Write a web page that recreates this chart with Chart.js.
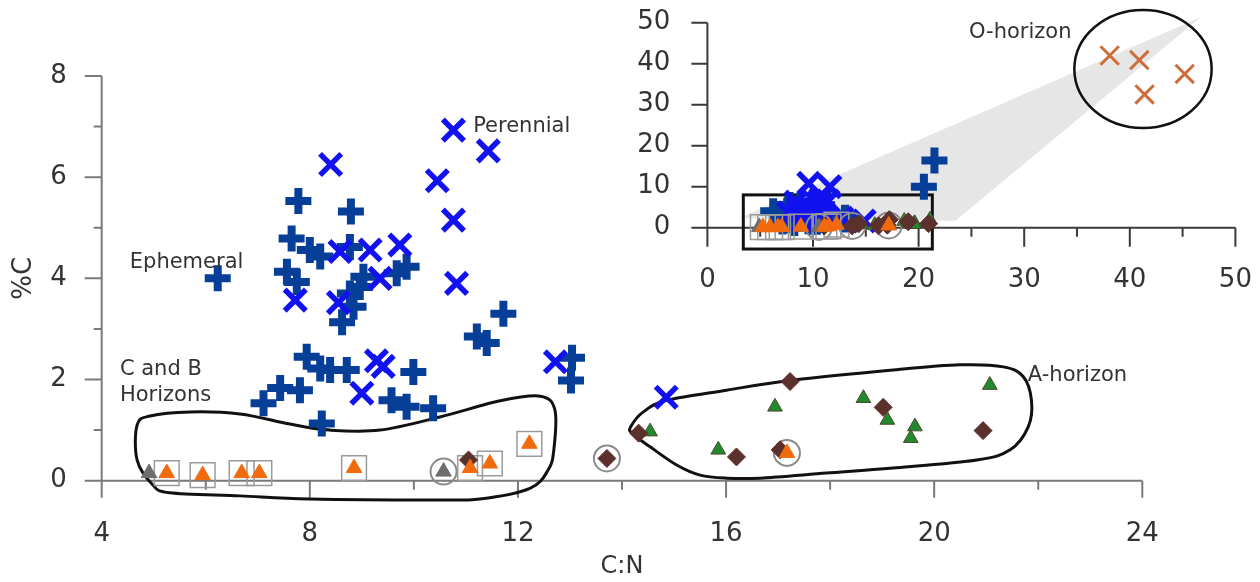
<!doctype html>
<html lang="en">
<head>
<meta charset="utf-8">
<title>%C vs C:N</title>
<script src="https://cdn.jsdelivr.net/npm/chart.js@4.4.1/dist/chart.umd.min.js"></script>
<style>
  html, body { margin: 0; padding: 0; background: #fff; }
  #wrap { position: relative; width: 1260px; height: 582px; }
  #main { position: absolute; left: 0; top: 0; }
  #inset { position: absolute; left: 620px; top: 0; }
</style>
</head>
<body>
<div id="wrap">
  <canvas id="main" width="1260" height="582"></canvas>
  <canvas id="inset" width="640" height="300"></canvas>
</div>
<script>
// values (x = C:N, y = %C)
var ephemeralCN = [6.23, 7.78, 8.79, 7.65, 8.00, 8.20, 8.77, 9.86, 9.67, 9.03, 8.96, 7.56, 7.75, 8.77, 8.84, 8.62,
                   11.72, 11.21, 11.40, 13.04, 13.02, 9.99, 7.94, 8.20, 8.39, 8.71, 7.43, 7.81, 7.11, 9.57, 9.86,
                   10.37, 8.23, 20.5, 21.5];
var ephemeralC = [4.00, 5.53, 5.32, 4.79, 4.56, 4.43, 4.62, 4.23, 4.10, 4.03, 3.83, 4.13, 3.93, 3.70, 3.44, 3.13,
                  3.30, 2.85, 2.72, 2.43, 1.98, 2.15, 2.45, 2.22, 2.19, 2.19, 1.83, 1.79, 1.53, 1.59, 1.46,
                  1.43, 1.13, 10.0, 16.4];
var perennialCN = [10.76, 11.43, 8.40, 10.45, 10.76, 8.58, 9.16, 9.73, 9.35, 10.82, 7.72, 8.55, 12.72, 9.28, 9.41,
                   9.00, 14.85, 9.6, 11.6];
var perennialC = [6.93, 6.52, 6.25, 5.93, 5.15, 4.53, 4.56, 4.66, 4.00, 3.90, 3.57, 3.52, 2.35, 2.37, 2.26,
                  1.73, 1.65, 10.8, 10.0];
var orangeCN = [5.25, 5.94, 6.69, 7.03, 8.85, 11.08, 11.46, 12.22, 17.17];
var orangeC = [0.15, 0.11, 0.15, 0.15, 0.25, 0.25, 0.34, 0.73, 0.55];
var boxedCN = [5.25, 5.94, 6.69, 7.03, 8.85, 11.08, 11.46, 12.22];
var boxedC = [0.15, 0.11, 0.15, 0.15, 0.25, 0.25, 0.34, 0.73];
var grayCN = [4.91, 10.57];
var grayC = [0.15, 0.18];
var ringedCN = [10.57, 13.71, 17.17];
var ringedC = [0.18, 0.44, 0.55];
var brownCN = [11.05, 13.71, 14.32, 16.20, 17.04, 17.23, 19.02, 20.94];
var brownC = [0.41, 0.44, 0.94, 0.47, 0.61, 1.96, 1.45, 0.99];
var greenCN = [14.54, 15.85, 16.94, 18.64, 19.10, 19.63, 19.55, 21.07];
var greenC = [0.97, 0.61, 1.46, 1.63, 1.20, 1.07, 0.84, 1.89];
var oHorizonCN = [38.1, 40.9, 45.2, 41.4];
var oHorizonC = [42.0, 40.9, 37.5, 32.5];

// hand-drawn group outlines (data coords)
var cbOutlineCN = [4.68, 4.93, 5.70, 6.66, 7.62, 8.39, 9.35, 10.50, 11.66, 12.43, 12.71, 12.69, 12.58, 12.23,
                   11.27, 10.31, 8.00, 6.66, 5.31, 4.97, 4.68];
var cbOutlineC = [1.10, 1.28, 1.36, 1.32, 1.12, 1.00, 1.00, 1.26, 1.58, 1.67, 1.40, 0.61, 0.21, -0.15,
                  -0.36, -0.38, -0.36, -0.30, -0.24, -0.07, 0.41];
var aOutlineCN = [14.17, 14.41, 14.86, 16.01, 17.29, 19.21, 20.50, 21.33, 21.71, 21.87, 21.81, 21.46, 20.82,
                  19.21, 17.93, 16.65, 16.01, 15.50, 15.05, 14.54, 14.19];
var aOutlineC = [1.07, 1.36, 1.59, 1.79, 1.99, 2.19, 2.29, 2.25, 2.06, 1.59, 1.07, 0.61, 0.41,
                 0.25, 0.15, 0.05, 0.05, 0.11, 0.31, 0.67, 0.94];
var wedgeCN = [2.99, 23.5, 46.7];
var wedgeC = [2.29, 1.71, 51.3];

// axis ticks
var mainXTicks = [4, 8, 12, 16, 20, 24];
var mainXMinor = [6, 10, 14, 18, 22];
var mainYTicks = [0, 2, 4, 6, 8];
var mainYMinor = [1, 3, 5, 7];
var insetTicks = [0, 10, 20, 30, 40, 50];
var insetXMinor = [5, 15, 25, 35, 45];

var FONT = '"DejaVu Sans", Verdana, sans-serif';
var TEXT = '#333333';

function pts(xs, ys) {
  return xs.map(function (x, i) { return {x: x, y: ys[i]}; });
}

function markerSets() {
  return [
    {data: pts(orangeCN, orangeC), pointStyle: 'triangle', pointRadius: 9, pointBackgroundColor: '#f26a0e',
     pointBorderColor: '#f26a0e', pointBorderWidth: 1, order: 1},
    {data: pts(grayCN, grayC), pointStyle: 'triangle', pointRadius: 9, pointBackgroundColor: '#6e6e6e',
     pointBorderColor: '#6e6e6e', pointBorderWidth: 1, order: 2},
    {data: pts(brownCN, brownC), pointStyle: 'rectRot', pointRadius: 9, pointBackgroundColor: '#5c302c',
     pointBorderColor: '#5c302c', pointBorderWidth: 1, order: 3},
    {data: pts(greenCN, greenC), pointStyle: 'triangle', pointRadius: 8.5, pointBackgroundColor: '#23892e',
     pointBorderColor: '#4b4a2c', pointBorderWidth: 1, order: 4},
    {data: pts(boxedCN, boxedC), pointStyle: 'rect', pointRadius: 17.5, pointBackgroundColor: 'rgba(0,0,0,0)',
     pointBorderColor: '#9a9a9a', pointBorderWidth: 1.5, order: 5},
    {data: pts(ringedCN, ringedC), pointStyle: 'circle', pointRadius: 13, pointBackgroundColor: 'rgba(0,0,0,0)',
     pointBorderColor: '#8a8a8a', pointBorderWidth: 2, order: 5},
    {data: pts(perennialCN, perennialC), pointStyle: 'crossRot', pointRadius: 15, pointBorderColor: '#1212f0',
     pointBorderWidth: 5.5, order: 6},
    {data: pts(ephemeralCN, ephemeralC), pointStyle: 'cross', pointRadius: 13, pointBorderColor: '#073f98',
     pointBorderWidth: 8, order: 7}
  ];
}

function toPx(chart, x, y) {
  return [chart.scales.x.getPixelForValue(x), chart.scales.y.getPixelForValue(y)];
}

function closedCurve(ctx, chart, xs, ys) {
  var p = xs.map(function (x, i) { return toPx(chart, x, ys[i]); });
  var n = p.length;
  ctx.beginPath();
  ctx.moveTo(p[0][0], p[0][1]);
  for (var i = 0; i < n; i++) {
    var p0 = p[(i - 1 + n) % n], p1 = p[i], p2 = p[(i + 1) % n], p3 = p[(i + 2) % n];
    ctx.bezierCurveTo(p1[0] + (p2[0] - p0[0]) / 6, p1[1] + (p2[1] - p0[1]) / 6,
                      p2[0] - (p3[0] - p1[0]) / 6, p2[1] - (p3[1] - p1[1]) / 6,
                      p2[0], p2[1]);
  }
  ctx.closePath();
  ctx.stroke();
}

function drawAxes(chart, a) {
  var ctx = chart.ctx, xs = chart.scales.x, ys = chart.scales.y;
  var x0 = xs.getPixelForValue(a.yAt), y0 = ys.getPixelForValue(a.xAt);
  ctx.save();
  ctx.strokeStyle = a.color;
  ctx.lineWidth = 2;
  ctx.beginPath();
  ctx.moveTo(x0 - a.xLeft, y0);
  ctx.lineTo(xs.getPixelForValue(a.xMax), y0);
  ctx.moveTo(x0, ys.getPixelForValue(a.yMax));
  ctx.lineTo(x0, y0 + a.yBelow);
  a.xMajor.forEach(function (v) {
    var p = xs.getPixelForValue(v);
    ctx.moveTo(p, y0); ctx.lineTo(p, y0 + a.xMajorLen);
  });
  a.xMinor.forEach(function (v) {
    var p = xs.getPixelForValue(v);
    ctx.moveTo(p, y0); ctx.lineTo(p, y0 + a.xMinorLen);
  });
  a.yMajor.forEach(function (v) {
    var p = ys.getPixelForValue(v);
    ctx.moveTo(x0, p); ctx.lineTo(x0 - a.yMajorLen, p);
  });
  a.yMinor.forEach(function (v) {
    var p = ys.getPixelForValue(v);
    ctx.moveTo(x0, p); ctx.lineTo(x0 - a.yMinorLen, p);
  });
  ctx.stroke();
  ctx.restore();
}

function label(chart, text, x, y) {
  var p = toPx(chart, x, y), ctx = chart.ctx;
  ctx.save();
  ctx.font = '21px ' + FONT;
  ctx.fillStyle = TEXT;
  ctx.textAlign = 'left';
  ctx.textBaseline = 'middle';
  ctx.fillText(text, p[0], p[1]);
  ctx.restore();
}

// fixed axis sizes so the plot areas land where the figure has them
function scaleOpts(min, max, step, w, h, pad, size, title) {
  var o = {
    type: 'linear', min: min, max: max,
    grid: {display: false, drawTicks: false},
    border: {display: false},
    ticks: {stepSize: step, padding: pad, color: TEXT, font: {family: FONT, size: size}},
    afterFit: function (s) {
      if (w) s.width = w;
      if (h) s.height = h;
      s.paddingLeft = s.paddingRight = s.paddingTop = s.paddingBottom = 0;
    }
  };
  if (title) o.title = title;
  return o;
}

var mainDecor = {
  id: 'mainDecor',
  beforeDatasetsDraw: function (chart) {
    var ctx = chart.ctx;
    drawAxes(chart, {yAt: 4, xAt: 0, xMax: 24, yMax: 8, xLeft: 2, yBelow: 17, color: '#7a7a7a',
      xMajor: mainXTicks, xMinor: mainXMinor, yMajor: mainYTicks, yMinor: mainYMinor,
      xMajorLen: 17, xMinorLen: 9, yMajorLen: 17, yMinorLen: 8});
    ctx.save();
    ctx.strokeStyle = '#111';
    ctx.lineWidth = 3;
    closedCurve(ctx, chart, cbOutlineCN, cbOutlineC);
    closedCurve(ctx, chart, aOutlineCN, aOutlineC);
    ctx.restore();
  },
  afterDatasetsDraw: function (chart) {
    label(chart, 'Ephemeral', 4.54, 4.32);
    label(chart, 'Perennial', 11.14, 7.01);
    label(chart, 'C and B', 4.35, 2.19);
    label(chart, 'Horizons', 4.35, 1.69);
    label(chart, 'A-horizon', 21.80, 2.07);
  }
};

var insetDecor = {
  id: 'insetDecor',
  beforeDatasetsDraw: function (chart) {
    var ctx = chart.ctx;
    ctx.save();
    ctx.fillStyle = '#e6e6e6';
    ctx.beginPath();
    wedgeCN.forEach(function (x, i) {
      var p = toPx(chart, x, wedgeC[i]);
      if (i === 0) ctx.moveTo(p[0], p[1]); else ctx.lineTo(p[0], p[1]);
    });
    ctx.closePath();
    ctx.fill();
    ctx.restore();
    drawAxes(chart, {yAt: 0, xAt: 0, xMax: 50, yMax: 50, xLeft: 16, yBelow: 19, color: '#3a3a3a',
      xMajor: insetTicks, xMinor: insetXMinor, yMajor: insetTicks, yMinor: [],
      xMajorLen: 19, xMinorLen: 9, yMajorLen: 16, yMinorLen: 0});
    ctx.save();
    ctx.strokeStyle = '#111';
    ctx.lineWidth = 3;
    var a = toPx(chart, 3.4, 8), b = toPx(chart, 21.3, -5.2);
    ctx.strokeRect(a[0], a[1], b[0] - a[0], b[1] - a[1]);
    var c = toPx(chart, 41.25, 38.7);
    var rx = chart.scales.x.getPixelForValue(41.25 + 6.5) - c[0];
    var ry = c[1] - chart.scales.y.getPixelForValue(38.7 + 14.4);
    ctx.lineWidth = 2.5;
    ctx.beginPath();
    ctx.ellipse(c[0], c[1], rx, ry, 0, 0, Math.PI * 2);
    ctx.stroke();
    ctx.restore();
  },
  afterDatasetsDraw: function (chart) {
    label(chart, 'O-horizon', 24.77, 47.5);
  }
};

function baseSets(extra) {
  var sets = markerSets().concat(extra || []);
  sets.forEach(function (d) { d.showLine = false; });
  return sets;
}

var mainSets = baseSets();
mainSets.forEach(function (d) { d.clip = {left: 30, right: 30, top: 0, bottom: 30}; });

new Chart(document.getElementById('main'), {
  type: 'scatter',
  data: {datasets: mainSets},
  options: {
    responsive: false, animation: false, events: [],
    layout: {padding: {left: 0, top: 76, right: 117.7, bottom: 0}},
    plugins: {legend: {display: false}, tooltip: {enabled: false}},
    scales: {
      x: scaleOpts(4, 24, 4, null, 101.3, 38, 26,
        {display: true, text: 'C:N', color: TEXT, font: {family: FONT, size: 24}, padding: {top: 0, bottom: 1}}),
      y: scaleOpts(0, 8, 2, 101.7, null, 35, 26,
        {display: true, text: '%C', color: TEXT, font: {family: FONT, size: 26}, padding: {top: 9, bottom: 0}})
    }
  },
  plugins: [mainDecor]
});

var insetSets = baseSets([
  {data: pts(oHorizonCN, oHorizonC), pointStyle: 'crossRot', pointRadius: 13, pointBorderColor: '#cd6e3a',
   pointBorderWidth: 3, order: 0}
]);
insetSets.forEach(function (d) { d.clip = false; });

new Chart(document.getElementById('inset'), {
  type: 'scatter',
  data: {datasets: insetSets},
  options: {
    responsive: false, animation: false, events: [],
    layout: {padding: {left: 0, top: 22.7, right: 24.6, bottom: 0}},
    plugins: {legend: {display: false}, tooltip: {enabled: false}},
    scales: {
      x: scaleOpts(0, 50, 10, null, 72.3, 37, 26),
      y: scaleOpts(0, 50, 10, 87.4, null, 37, 26)
    }
  },
  plugins: [insetDecor]
});
</script>
</body>
</html>
